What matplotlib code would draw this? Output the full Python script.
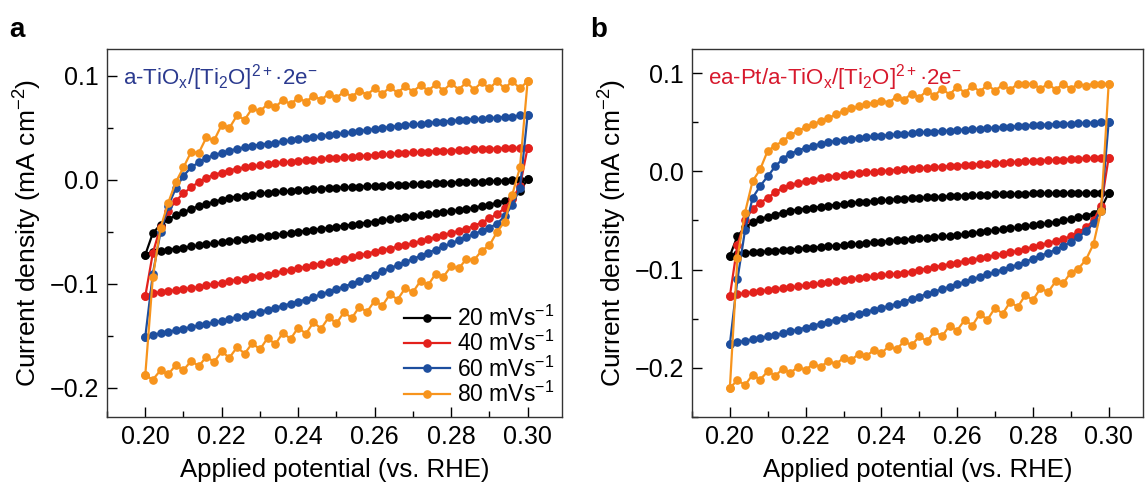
import matplotlib.pyplot as plt
from matplotlib.ticker import MultipleLocator, FuncFormatter

plt.rcParams['font.family'] = ['Liberation Sans', 'DejaVu Sans']
plt.rcParams['mathtext.fontset'] = 'custom'
plt.rcParams['mathtext.rm'] = 'Liberation Sans'
plt.rcParams['mathtext.it'] = 'Liberation Sans:italic'

# applied potential (V vs. RHE), sweep grid
potential = [0.200, 0.202, 0.204, 0.206, 0.208, 0.210, 0.212, 0.214, 0.216, 0.218,
             0.220, 0.222, 0.224, 0.226, 0.228, 0.230, 0.232, 0.234, 0.236, 0.238,
             0.240, 0.242, 0.244, 0.246, 0.248, 0.250, 0.252, 0.254, 0.256, 0.258,
             0.260, 0.262, 0.264, 0.266, 0.268, 0.270, 0.272, 0.274, 0.276, 0.278,
             0.280, 0.282, 0.284, 0.286, 0.288, 0.290, 0.292, 0.294, 0.296, 0.298,
             0.300]

rates = ['20', '40', '60', '80']
colors = ['#000000', '#e3211c', '#1d4e9e', '#f7941d']

# panel a: a-TiOx  (upper = anodic sweep, lower = cathodic sweep; both listed vs potential)
a_up_20 = [-0.072, -0.051, -0.043, -0.038, -0.034, -0.031, -0.028, -0.025, -0.023, -0.021,
           -0.019, -0.017, -0.016, -0.015, -0.014, -0.013, -0.0125, -0.012, -0.011, -0.0105,
           -0.010, -0.0095, -0.009, -0.0085, -0.008, -0.0075, -0.007, -0.0068, -0.0065, -0.006,
           -0.0058, -0.0055, -0.005, -0.0048, -0.0045, -0.004, -0.0038, -0.0035, -0.003, -0.0028,
           -0.0025, -0.0022, -0.002, -0.0017, -0.0015, -0.0012, -0.001, -0.0007, -0.0005, 0.0,
           0.001]
a_dn_20 = [-0.072, -0.069, -0.068, -0.067, -0.066, -0.065, -0.064, -0.063, -0.062, -0.061,
           -0.060, -0.059, -0.058, -0.057, -0.056, -0.055, -0.054, -0.053, -0.052, -0.051,
           -0.050, -0.049, -0.048, -0.047, -0.046, -0.045, -0.044, -0.043, -0.042, -0.041,
           -0.040, -0.039, -0.038, -0.037, -0.036, -0.035, -0.034, -0.033, -0.032, -0.031,
           -0.030, -0.029, -0.028, -0.027, -0.025, -0.024, -0.022, -0.020, -0.017, -0.011,
           0.001]
a_up_40 = [-0.112, -0.070, -0.045, -0.030, -0.020, -0.013, -0.007, -0.002, 0.002, 0.005,
           0.007, 0.009, 0.011, 0.012, 0.013, 0.014, 0.015, 0.016, 0.017, 0.0175,
           0.018, 0.019, 0.0195, 0.020, 0.021, 0.0215, 0.022, 0.0225, 0.023, 0.0235,
           0.024, 0.0245, 0.025, 0.0255, 0.026, 0.0265, 0.027, 0.0273, 0.0276, 0.028,
           0.0283, 0.0286, 0.029, 0.0293, 0.0296, 0.030, 0.0302, 0.0305, 0.0307, 0.031,
           0.031]
a_dn_40 = [-0.112, -0.109, -0.108, -0.107, -0.106, -0.105, -0.104, -0.103, -0.1015, -0.100,
           -0.099, -0.0975, -0.096, -0.095, -0.0935, -0.092, -0.091, -0.0895, -0.088, -0.0865,
           -0.085, -0.0835, -0.082, -0.0805, -0.079, -0.0775, -0.076, -0.074, -0.0725, -0.071,
           -0.069, -0.0675, -0.066, -0.064, -0.0625, -0.061, -0.059, -0.057, -0.055, -0.053,
           -0.051, -0.049, -0.047, -0.044, -0.041, -0.037, -0.033, -0.027, -0.018, -0.006,
           0.031]
a_up_60 = [-0.151, -0.090, -0.050, -0.025, -0.008, 0.004, 0.012, 0.017, 0.021, 0.024,
           0.026, 0.028, 0.030, 0.0315, 0.033, 0.034, 0.035, 0.036, 0.037, 0.038,
           0.039, 0.040, 0.041, 0.042, 0.043, 0.044, 0.045, 0.046, 0.047, 0.048,
           0.049, 0.050, 0.051, 0.052, 0.053, 0.0535, 0.054, 0.055, 0.0555, 0.056,
           0.057, 0.0575, 0.058, 0.0585, 0.059, 0.0595, 0.060, 0.0605, 0.061, 0.062,
           0.0625]
a_dn_60 = [-0.151, -0.149, -0.1475, -0.146, -0.1445, -0.143, -0.1415, -0.140, -0.1385, -0.137,
           -0.1355, -0.134, -0.132, -0.1305, -0.129, -0.127, -0.125, -0.123, -0.121, -0.119,
           -0.117, -0.115, -0.1125, -0.110, -0.1075, -0.105, -0.1025, -0.100, -0.097, -0.094,
           -0.091, -0.088, -0.085, -0.082, -0.079, -0.076, -0.073, -0.070, -0.067, -0.064,
           -0.061, -0.058, -0.055, -0.052, -0.049, -0.046, -0.042, -0.035, -0.024, -0.008,
           0.0625]
a_up_80 = [-0.188, -0.093, -0.046, -0.022, -0.002, 0.012, 0.027, 0.026, 0.041, 0.038,
           0.053, 0.050, 0.062, 0.058, 0.069, 0.066, 0.073, 0.070, 0.077, 0.073,
           0.079, 0.075, 0.081, 0.077, 0.083, 0.079, 0.085, 0.080, 0.086, 0.082,
           0.088, 0.083, 0.089, 0.084, 0.090, 0.085, 0.091, 0.086, 0.092, 0.086,
           0.093, 0.087, 0.094, 0.087, 0.094, 0.088, 0.095, 0.088, 0.095, 0.088,
           0.095]
a_dn_80 = [-0.188, -0.192, -0.183, -0.187, -0.178, -0.183, -0.174, -0.179, -0.170, -0.175,
           -0.165, -0.171, -0.161, -0.167, -0.157, -0.163, -0.152, -0.158, -0.147, -0.153,
           -0.142, -0.148, -0.137, -0.143, -0.132, -0.138, -0.127, -0.133, -0.122, -0.127,
           -0.116, -0.121, -0.110, -0.115, -0.104, -0.108, -0.097, -0.101, -0.090, -0.093,
           -0.083, -0.085, -0.076, -0.077, -0.068, -0.063, -0.050, -0.040, -0.014, 0.012,
           0.095]

# panel b: ea-Pt/a-TiOx
b_up_20 = [-0.086, -0.066, -0.057, -0.052, -0.049, -0.046, -0.044, -0.042, -0.040, -0.039,
           -0.038, -0.037, -0.036, -0.035, -0.034, -0.033, -0.0322, -0.0315, -0.031, -0.0303,
           -0.0297, -0.029, -0.0285, -0.028, -0.0275, -0.027, -0.0266, -0.0262, -0.0258, -0.0254,
           -0.025, -0.0247, -0.0244, -0.0241, -0.0238, -0.0235, -0.0233, -0.0231, -0.0229, -0.0227,
           -0.0225, -0.0224, -0.0223, -0.0222, -0.0221, -0.022, -0.022, -0.022, -0.022, -0.022,
           -0.022]
b_dn_20 = [-0.086, -0.084, -0.083, -0.0825, -0.082, -0.0815, -0.081, -0.0803, -0.0796, -0.079,
           -0.0783, -0.0776, -0.077, -0.0763, -0.0756, -0.075, -0.0743, -0.0736, -0.073, -0.0723,
           -0.0716, -0.071, -0.0703, -0.0696, -0.069, -0.0683, -0.0676, -0.067, -0.0663, -0.0656,
           -0.065, -0.064, -0.063, -0.062, -0.061, -0.060, -0.059, -0.058, -0.057, -0.056,
           -0.055, -0.054, -0.053, -0.0515, -0.050, -0.0485, -0.047, -0.045, -0.043, -0.038,
           -0.022]
b_up_40 = [-0.127, -0.075, -0.050, -0.038, -0.032, -0.027, -0.021, -0.017, -0.014, -0.012,
           -0.010, -0.0085, -0.007, -0.0058, -0.0047, -0.0037, -0.0028, -0.002, -0.0012, -0.0005,
           0.0002, 0.0008, 0.0014, 0.002, 0.0026, 0.0032, 0.0038, 0.0043, 0.0048, 0.0053,
           0.0058, 0.0063, 0.0068, 0.0073, 0.0078, 0.0083, 0.0088, 0.0092, 0.0096, 0.010,
           0.0104, 0.0108, 0.0112, 0.0116, 0.012, 0.0124, 0.0128, 0.0132, 0.0135, 0.0138,
           0.014]
b_dn_40 = [-0.127, -0.125, -0.124, -0.123, -0.122, -0.121, -0.120, -0.119, -0.118, -0.117,
           -0.116, -0.115, -0.114, -0.113, -0.112, -0.111, -0.110, -0.109, -0.108, -0.107,
           -0.106, -0.105, -0.104, -0.103, -0.102, -0.1005, -0.099, -0.0975, -0.096, -0.0945,
           -0.093, -0.0915, -0.090, -0.0885, -0.087, -0.0855, -0.084, -0.0825, -0.081, -0.079,
           -0.077, -0.075, -0.073, -0.071, -0.069, -0.066, -0.062, -0.057, -0.050, -0.035,
           0.014]
b_up_60 = [-0.176, -0.110, -0.060, -0.027, -0.015, -0.005, 0.005, 0.013, 0.018, 0.021,
           0.024, 0.026, 0.028, 0.0295, 0.031, 0.032, 0.033, 0.034, 0.035, 0.0355,
           0.036, 0.037, 0.0375, 0.038, 0.0388, 0.0395, 0.040, 0.0405, 0.041, 0.0415,
           0.042, 0.0425, 0.043, 0.0435, 0.044, 0.0445, 0.045, 0.0455, 0.046, 0.0465,
           0.047, 0.0473, 0.0476, 0.048, 0.0483, 0.0486, 0.049, 0.0493, 0.0496, 0.050,
           0.050]
b_dn_60 = [-0.176, -0.174, -0.1725, -0.171, -0.1695, -0.168, -0.1665, -0.165, -0.163, -0.161,
           -0.159, -0.157, -0.155, -0.153, -0.151, -0.149, -0.147, -0.145, -0.143, -0.141,
           -0.139, -0.137, -0.135, -0.1325, -0.130, -0.1275, -0.125, -0.1225, -0.120, -0.1175,
           -0.115, -0.1125, -0.110, -0.1075, -0.105, -0.1025, -0.100, -0.0975, -0.095, -0.092,
           -0.089, -0.086, -0.083, -0.080, -0.076, -0.072, -0.067, -0.061, -0.053, -0.040,
           0.050]
b_up_80 = [-0.2205, -0.088, -0.042, -0.010, 0.002, 0.021, 0.026, 0.031, 0.037, 0.041,
           0.045, 0.048, 0.051, 0.054, 0.058, 0.061, 0.064, 0.066, 0.068, 0.070,
           0.072, 0.070, 0.076, 0.073, 0.079, 0.075, 0.082, 0.077, 0.084, 0.078,
           0.086, 0.080, 0.087, 0.081, 0.088, 0.082, 0.088, 0.083, 0.089, 0.089,
           0.089, 0.084, 0.089, 0.083, 0.089, 0.084, 0.089, 0.087, 0.089, 0.089,
           0.089]
b_dn_80 = [-0.2205, -0.2125, -0.2175, -0.207, -0.212, -0.2035, -0.208, -0.201, -0.205, -0.199,
           -0.202, -0.196, -0.199, -0.193, -0.196, -0.190, -0.192, -0.186, -0.188, -0.182,
           -0.185, -0.178, -0.181, -0.173, -0.177, -0.168, -0.173, -0.163, -0.168, -0.157,
           -0.162, -0.151, -0.157, -0.145, -0.151, -0.139, -0.145, -0.133, -0.138, -0.126,
           -0.131, -0.119, -0.123, -0.112, -0.114, -0.103, -0.099, -0.090, -0.074, -0.040,
           0.089]

panel_a = [(a_up_20, a_dn_20), (a_up_40, a_dn_40), (a_up_60, a_dn_60), (a_up_80, a_dn_80)]
panel_b = [(b_up_20, b_dn_20), (b_up_40, b_dn_40), (b_up_60, b_dn_60), (b_up_80, b_dn_80)]

fig = plt.figure(figsize=(11.47, 4.96), dpi=100)
ax_a = fig.add_axes([0.0933, 0.1593, 0.3967, 0.742])
ax_b = fig.add_axes([0.6033, 0.1593, 0.393, 0.742])

loop_x = potential + potential[::-1]


def minus_fmt(fmt):
    return FuncFormatter(lambda v, pos: (fmt % v).replace('-', '\u2212'))


for ax, curves in [(ax_a, panel_a), (ax_b, panel_b)]:
    for (up, dn), rate, c in zip(curves, rates, colors):
        ax.plot(loop_x, up + dn[::-1], color=c, marker='o', markersize=5.2,
                linewidth=1.6, label=rate + r' mVs$^{\mathregular{-1}}$')

    ax.set_xlim(0.190, 0.309)
    ax.xaxis.set_major_locator(MultipleLocator(0.02))
    ax.xaxis.set_minor_locator(MultipleLocator(0.01))
    ax.yaxis.set_major_locator(MultipleLocator(0.1))
    ax.yaxis.set_minor_locator(MultipleLocator(0.05))
    ax.xaxis.set_major_formatter(minus_fmt('%.2f'))
    ax.yaxis.set_major_formatter(minus_fmt('%.1f'))
    ax.tick_params(which='major', direction='in', length=7, width=1, labelsize=18, pad=6)
    ax.tick_params(which='minor', direction='in', length=4, width=1)
    ax.tick_params(top=False, right=False, which='both')
    for s in ax.spines.values():
        s.set_color('#333333')
        s.set_linewidth(1.0)
    ax.set_xlabel('Applied potential (vs. RHE)', fontsize=18.5, labelpad=6)
    ax.set_ylabel(r'Current density (mA cm$^{\mathregular{-2}}$)', fontsize=19, labelpad=4)

ax_a.set_ylim(-0.228, 0.126)
ax_b.set_ylim(-0.25, 0.1245)

ax_a.text(0.035, 0.965, r'a-TiO$_\mathregular{x}$/[Ti$_\mathregular{2}$O]$^{\mathregular{2+}}$·2e$^{\mathregular{-}}$',
          transform=ax_a.transAxes, color='#2b3a8f', fontsize=16, va='top', ha='left')
ax_b.text(0.035, 0.965, r'ea-Pt/a-TiO$_\mathregular{x}$/[Ti$_\mathregular{2}$O]$^{\mathregular{2+}}$·2e$^{\mathregular{-}}$',
          transform=ax_b.transAxes, color='#d7192d', fontsize=16, va='top', ha='left')

ax_a.legend(loc='lower right', frameon=False, fontsize=16.5, handlelength=2.0,
            labelspacing=0.0, handletextpad=0.3, borderaxespad=0.05,
            bbox_to_anchor=(1.005, 0.0))

fig.text(0.008, 0.925, 'a', fontsize=20, fontweight='bold')
fig.text(0.515, 0.925, 'b', fontsize=20, fontweight='bold')

fig.savefig('out.png', dpi=100)
